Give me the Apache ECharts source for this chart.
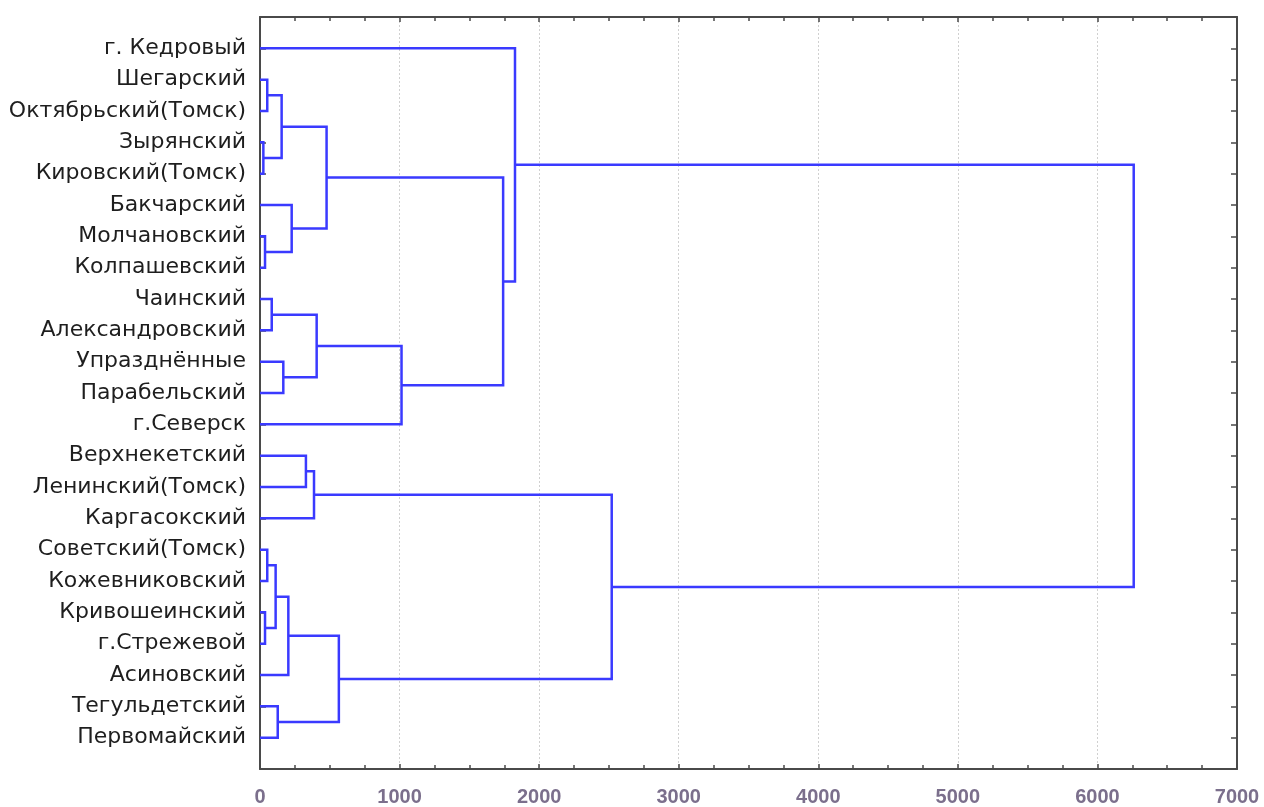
<!DOCTYPE html>
<html>
<head>
<meta charset="utf-8">
<script src="https://cdn.jsdelivr.net/npm/echarts@6/dist/echarts.min.js"></script>
<style>
  html, body { margin: 0; padding: 0; background: #fff; }
  #chart { width: 1264px; height: 807px; }
</style>
</head>
<body>
<div id="chart"></div>
<script>
// Leaves of the dendrogram, top to bottom
const leafNames = [
  'г. Кедровый', 'Шегарский', 'Октябрьский(Томск)', 'Зырянский', 'Кировский(Томск)',
  'Бакчарский', 'Молчановский', 'Колпашевский', 'Чаинский', 'Александровский',
  'Упразднённые', 'Парабельский', 'г.Северск', 'Верхнекетский', 'Ленинский(Томск)',
  'Каргасокский', 'Советский(Томск)', 'Кожевниковский', 'Кривошеинский', 'г.Стрежевой',
  'Асиновский', 'Тегульдетский', 'Первомайский'
];

// Merge steps: indices < 23 are leaves, index 23 + k is the cluster made at step k
const mergeLeft   = [3, 1, 6, 24, 5, 26, 8, 10, 29, 31, 28, 0, 13, 35, 16, 18, 37, 39, 21, 40, 36, 34];
const mergeRight  = [4, 2, 7, 23, 25, 27, 9, 11, 30, 12, 32, 33, 14, 15, 17, 19, 38, 20, 22, 41, 42, 43];
const mergeHeight = [24, 52, 36, 155, 227, 477, 84, 167, 406, 1014, 1742, 1827, 329, 387, 52, 36, 112, 203, 127, 565, 2520, 6260];

// Linkage distance axis ticks
const xTicks = [0, 1000, 2000, 3000, 4000, 5000, 6000, 7000];

// Build the U-shaped links from the merge table
const nLeaves = leafNames.length;
const nodeX = [];
const nodeY = [];
for (let i = 0; i < nLeaves; i++) { nodeX.push(0); nodeY.push(i); }
const links = [];
for (let k = 0; k < mergeHeight.length; k++) {
  const a = mergeLeft[k], b = mergeRight[k], h = mergeHeight[k];
  links.push({
    coords: [[nodeX[a], nodeY[a]], [h, nodeY[a]], [h, nodeY[b]], [nodeX[b], nodeY[b]]]
  });
  nodeX.push(h);
  nodeY.push((nodeY[a] + nodeY[b]) / 2);
}

const axisColor = '#4a4a4a';
const chart = echarts.init(document.getElementById('chart'), null, { renderer: 'canvas' });

const xBase = {
  type: 'value',
  min: xTicks[0],
  max: xTicks[xTicks.length - 1],
  interval: 1000,
  axisLine: { show: true, onZero: false, lineStyle: { color: axisColor, width: 2 } },
  axisTick: { show: true, inside: true, length: 5, lineStyle: { color: axisColor, width: 1.5 } },
  minorTick: { show: true, splitNumber: 4, length: 4, lineStyle: { color: axisColor, width: 1.5 } },
  splitLine: { show: false },
  axisLabel: { show: false }
};

const yBase = {
  type: 'value',
  inverse: true,
  min: -1,
  max: nLeaves,
  interval: 1,
  axisLine: { show: true, onZero: false, lineStyle: { color: axisColor, width: 2 } },
  axisTick: { show: true, inside: true, length: 6, lineStyle: { color: axisColor, width: 1.5 } },
  splitLine: { show: false },
  axisLabel: { show: false }
};

chart.setOption({
  backgroundColor: '#ffffff',
  animation: false,
  grid: { left: 260, right: 27, top: 17, bottom: 37, containLabel: false },
  xAxis: [
    Object.assign({}, xBase, {
      position: 'bottom',
      splitLine: { show: true, lineStyle: { color: '#d0d0d0', type: [2, 2], width: 1 } },
      axisLabel: {
        show: true,
        margin: 18,
        color: '#7b6f8c',
        fontFamily: 'Liberation Sans, Arial, sans-serif',
        fontWeight: 'bold',
        fontSize: 20,
        formatter: function (v) { return String(v); }
      }
    }),
    Object.assign({}, xBase, { position: 'top' })
  ],
  yAxis: [
    Object.assign({}, yBase, {
      position: 'left',
      axisLabel: {
        show: true,
        margin: 14,
        color: '#1e1e1e',
        fontFamily: 'DejaVu Sans, sans-serif',
        fontSize: 22,
        formatter: function (v) {
          return (v >= 0 && v < nLeaves && Number.isInteger(v)) ? leafNames[v] : '';
        }
      }
    }),
    Object.assign({}, yBase, { position: 'right' })
  ],
  series: [{
    type: 'lines',
    coordinateSystem: 'cartesian2d',
    polyline: true,
    xAxisIndex: 0,
    yAxisIndex: 0,
    lineStyle: { color: '#3a3aff', width: 2.5, opacity: 1 },
    data: links
  }]
});
</script>
</body>
</html>
